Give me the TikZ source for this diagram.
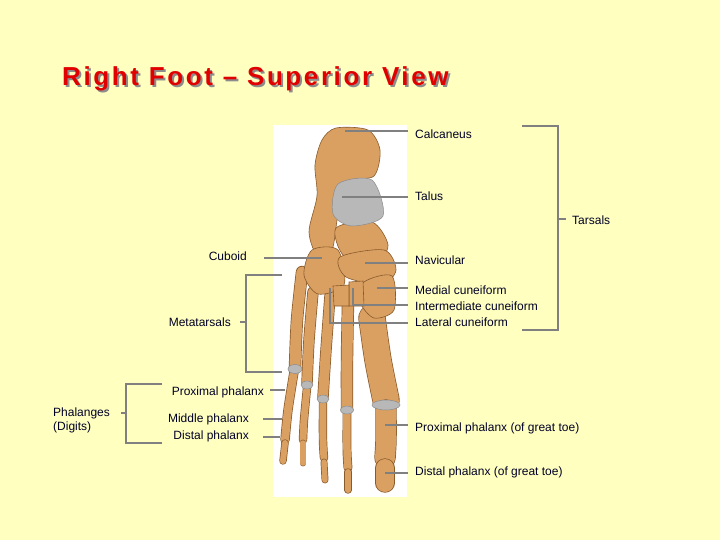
\documentclass[tikz,border=0pt]{standalone}
\usepackage{fontspec}
\setmainfont{Liberation Sans}
\begin{document}
\begin{tikzpicture}[x=1pt,y=-1pt,
  lbl/.style={inner sep=0pt,font=\fontsize{12}{14}\selectfont,text=black!85!blue,align=left},
  lead/.style={draw=black!50,line width=1.6pt},
  bonefill/.style={fill=bonec,draw=boneo,line width=0.6pt},
  cart/.style={fill=cartc,draw=black!45,line width=0.5pt}]
\definecolor{bg}{HTML}{FFFFC0}
\definecolor{bonec}{HTML}{D9A062}
\definecolor{boneo}{HTML}{8A5A2A}
\definecolor{cartc}{HTML}{B8B8B8}
\definecolor{titler}{HTML}{E00000}
\useasboundingbox (0,0) rectangle (720,540);
\fill[bg] (0,0) rectangle (720,540);
% title with shadow
\newcommand{\ttltext}{Right Foot – Superior View}
\node[anchor=west,inner sep=0pt,font=\fontsize{26}{30}\bfseries\addfontfeatures{LetterSpace=10}] (title) at (62,80)
  {\rlap{\raisebox{-2pt}{\hspace{2pt}\textcolor{black!45}{\ttltext}}}\textcolor{titler}{\ttltext}};
% image panel
\fill[white] (273,125) rectangle (407,497);
% metatarsals + phalanges rays
\foreach \w/\p in {
  11/{(302,272) (297,320) (295,367)}, 8/{(294,372) (288,410) (285,440)}, 6/{(285,443) (283,461)},
  10/{(313,292) (309,340) (307,383)}, 7/{(307,388) (304,420) (303,440)}, 5.5/{(303,443) (303,463)},
  10/{(330,296) (326,350) (323,397)}, 7/{(323,402) (323,440) (324,458)}, 5.5/{(324,462) (325,480)},
  11/{(348,302) (347,360) (347,408)}, 7.5/{(347,413) (347,450) (348,468)}, 6/{(348,472) (348,490)},
  26/{(372,318) (378,360) (386,400)}, 20/{(386,410) (386,440) (385,458)}, 18/{(385,468) (385,483)}}{
  \draw[boneo,line width=\w pt+1.4pt,line cap=round] plot[smooth] coordinates {\p};
  \draw[bonec,line width=\w pt,line cap=round] plot[smooth] coordinates {\p};
}
% cartilage caps
\foreach \x/\y/\a/\b in {295/369/7/4.5, 307/385/6/4, 323/399/6/4, 347/410/6.5/4, 386/405/14/5}
  \draw[cart] (\x,\y) ellipse ({\a pt} and {\b pt});
% tarsals
\draw[bonefill] plot[smooth cycle] coordinates {(322,140) (336,128) (368,130) (380,150) (374,176) (348,182) (338,215) (332,250) (318,257) (309,232) (317,196) (315,165)};
\draw[bonefill] plot[smooth cycle] coordinates {(336,228) (372,222) (388,245) (376,262) (344,256)};
\draw[bonefill] plot[smooth cycle] coordinates {(312,250) (338,250) (344,285) (318,294) (304,275)};
\draw[bonefill] plot[smooth cycle] coordinates {(340,257) (384,250) (396,270) (382,284) (346,277)};
\draw[bonefill] plot[smooth cycle] coordinates {(364,282) (392,276) (394,310) (374,318) (360,302)};
\draw[bonefill] (349,282) -- (363,281) -- (364,306) -- (349,306) -- cycle;
\draw[bonefill] (333,286) -- (349,285) -- (349,306) -- (334,306) -- cycle;
\draw[cart] plot[smooth cycle] coordinates {(338,184) (372,180) (383,216) (352,226) (333,214)};
% right labels
\node[lbl,anchor=west] (calc) at (415,134) {Calcaneus};
\node[lbl,anchor=west] (tal) at (415,196) {Talus};
\node[lbl,anchor=west] (nav) at (415,260) {Navicular};
\node[lbl,anchor=west] (med) at (415,290) {Medial cuneiform};
\node[lbl,anchor=west] (int) at (415,306) {Intermediate cuneiform};
\node[lbl,anchor=west] (lat) at (415,322) {Lateral cuneiform};
\node[lbl,anchor=west] (ppg) at (415,428) {Proximal phalanx (of great toe)};
\node[lbl,anchor=west] (dpg) at (415,472) {Distal phalanx (of great toe)};
\node[lbl,anchor=west] (tars) at (572,220) {Tarsals};
\coordinate (cA) at (345,131); \coordinate (cB) at (408,131);
\coordinate (tA) at (342,197); \coordinate (tB) at (408,197);
\coordinate (nA) at (365,263); \coordinate (nB) at (408,263);
\coordinate (mA) at (377,288); \coordinate (mB) at (408,288);
\coordinate (iA) at (353,288); \coordinate (iB) at (408,305);
\coordinate (lA) at (330,288); \coordinate (lB) at (408,323);
\coordinate (pA) at (385,425); \coordinate (pB) at (408,425);
\coordinate (dA) at (385,473); \coordinate (dB) at (408,473);
\draw[lead] (cA) -- (cB);
\draw[lead] (tA) -- (tB);
\draw[lead] (nA) -- (nB);
\draw[lead] (mA) -- (mB);
\draw[lead] (iA) |- (iB);
\draw[lead] (lA) |- (lB);
\draw[lead] (pA) -- (pB);
\draw[lead] (dA) -- (dB);
\coordinate (tb1) at (522,126); \coordinate (tb2) at (522,330); \coordinate (tt) at (566,219);
\draw[lead] (tb1) -| (558,330) -- (tb2);
\draw[lead] (558,219) -- (tt);
% left labels
\node[lbl,anchor=east] (cub) at (247,256) {Cuboid};
\node[lbl,anchor=east] (meta) at (231,322) {Metatarsals};
\node[lbl,anchor=east] (pp) at (264,392) {Proximal phalanx};
\node[lbl,anchor=east] (mp) at (249,419) {Middle phalanx};
\node[lbl,anchor=east] (dp) at (249,436) {Distal phalanx};
\node[lbl,anchor=west] (phal) at (53,420) {Phalanges\\(Digits)};
\coordinate (cuA) at (264,258); \coordinate (cuB) at (322,258);
\draw[lead] (cuA) -- (cuB);
\coordinate (mt1) at (282,275); \coordinate (mt2) at (282,372); \coordinate (mtt) at (240,322);
\draw[lead] (mt1) -- (246,275) -- (246,372) -- (mt2);
\draw[lead] (246,322) -- (mtt);
\coordinate (ph1) at (162,384); \coordinate (ph2) at (162,443); \coordinate (pht) at (121,413);
\draw[lead] (ph1) -- (126,384) -- (126,443) -- (ph2);
\draw[lead] (126,413) -- (pht);
\coordinate (ppA) at (270,390); \coordinate (ppB) at (285,390);
\coordinate (mpA) at (263,419); \coordinate (mpB) at (282,419);
\coordinate (dpA) at (263,437); \coordinate (dpB) at (280,437);
\draw[lead] (ppA) -- (ppB);
\draw[lead] (mpA) -- (mpB);
\draw[lead] (dpA) -- (dpB);
\end{tikzpicture}
\end{document}
